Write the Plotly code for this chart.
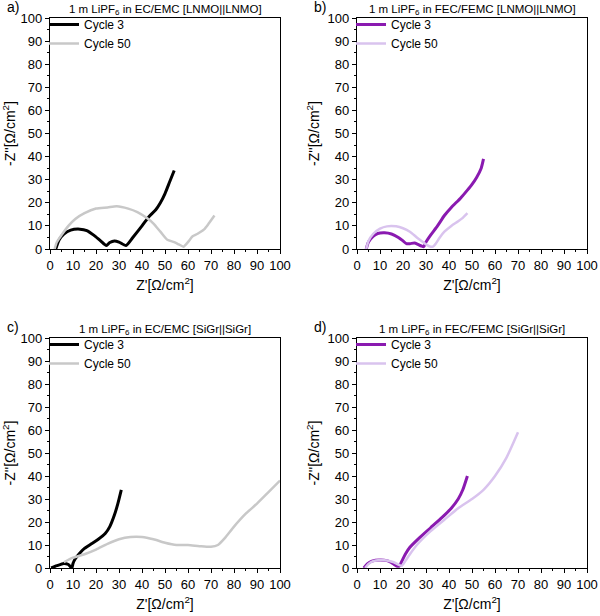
import plotly.graph_objects as go

# panel a) EC/EMC, LNMO||LNMO
a_c3_x = [2.5, 4, 6, 9, 13, 16, 19, 22, 24.5, 26, 28, 30, 33, 36, 40, 43, 46, 48, 50, 52, 54]
a_c3_y = [0, 4, 6.5, 8.2, 8.6, 8, 6, 3.5, 1.5, 2.8, 3.5, 3, 1.5, 5, 10, 14, 17, 20, 24, 29, 34]
a_c50_x = [2, 3, 5, 8, 11, 15, 20, 25, 29, 34, 38, 42, 45, 48, 51, 54, 56, 58, 60, 62, 64, 67, 69, 71.5]
a_c50_y = [0, 3, 6, 10, 13, 15.5, 17.5, 18, 18.5, 17.5, 16, 13.5, 11, 7.5, 4, 3, 2, 1, 3, 5.5, 6.5, 8.5, 11, 14.5]

# panel b) FEC/FEMC, LNMO||LNMO
b_c3_x = [4, 5, 7, 9, 12, 15, 18, 20, 21.5, 23, 25, 26.5, 28, 29, 30, 32, 35, 38, 41, 45, 48, 50, 52, 54, 55]
b_c3_y = [0, 3, 5.5, 6.7, 7, 6.5, 5, 3.5, 2.3, 2.3, 2.6, 2, 1.3, 1, 3, 6, 10, 14.5, 18, 22, 25.5, 28, 31, 35, 39]
b_c50_x = [4, 5, 7, 10, 13, 17, 20, 23, 26, 28, 30, 32, 33, 34, 36, 38, 41, 44, 46, 48]
b_c50_y = [0, 3.5, 6.5, 8.8, 9.8, 9.8, 9, 7.5, 5, 3.5, 2, 1, 1, 2, 5, 7.5, 10, 12, 13.5, 15.5]

# panel c) EC/EMC, SiGr||SiGr
c_c3_x = [0.5, 3, 6, 8, 9.5, 10, 11, 13, 15, 18, 21, 24, 26, 28, 29.5, 31]
c_c3_y = [0, 1, 2, 1.5, 0, 2, 4, 6.5, 8.5, 10.5, 12.5, 15, 18, 23, 28, 34]
c_c50_x = [6, 10, 15, 20, 25, 30, 35, 40, 45, 50, 55, 60, 65, 70, 73, 76, 80, 85, 90, 95, 100]
c_c50_y = [2.5, 4.5, 6, 8, 10.5, 12.5, 13.5, 13.5, 12.5, 11, 10, 10, 9.5, 9.2, 10, 13, 18, 23.5, 28, 33, 38]

# panel d) FEC/FEMC, SiGr||SiGr
d_c3_x = [3, 4.5, 6.5, 10, 13, 15.5, 17.5, 18.5, 19.5, 21, 23, 27, 32, 37, 41, 44, 46, 48]
d_c3_y = [0, 1.8, 3, 3.5, 3.2, 2, 0.8, 1, 3, 6, 9, 13, 17.5, 22, 26, 30, 34, 40]
d_c50_x = [3.5, 5, 7, 10, 13, 16, 18, 19.5, 21, 23, 26, 32, 38, 44, 50, 55, 60, 65, 70]
d_c50_y = [0, 1.8, 3, 3.5, 3.3, 2.5, 1.5, 1, 3, 6, 10, 16, 21, 26, 30, 34, 40, 48, 59]

titles = ["1 m LiPF<sub>6</sub> in EC/EMC [LNMO||LNMO]",
          "1 m LiPF<sub>6</sub> in FEC/FEMC [LNMO||LNMO]",
          "1 m LiPF<sub>6</sub> in EC/EMC [SiGr||SiGr]",
          "1 m LiPF<sub>6</sub> in FEC/FEMC [SiGr||SiGr]"]
labels = ["a)", "b)", "c)", "d)"]
series_names = ["Cycle 3", "Cycle 50"]

panels = [(a_c3_x, a_c3_y, a_c50_x, a_c50_y),
          (b_c3_x, b_c3_y, b_c50_x, b_c50_y),
          (c_c3_x, c_c3_y, c_c50_x, c_c50_y),
          (d_c3_x, d_c3_y, d_c50_x, d_c50_y)]
colors = [("#000000", "#c8c8c8"), ("#8a1ab0", "#d9c3ee"),
          ("#000000", "#c8c8c8"), ("#8a1ab0", "#d9c3ee")]

W, H = 600, 616
# plot areas in pixels: left, right, top, bottom
boxes = [(50, 280, 18, 249), (357, 587, 18, 249),
         (50, 280, 338, 568), (357, 587, 338, 568)]

font = "Liberation Sans, Arial, sans-serif"
fig = go.Figure()
layout = {}
annotations = []
for i, (px0, px1, py0, py1) in enumerate(boxes):
    n = "" if i == 0 else str(i + 1)
    xd = [px0 / W, px1 / W]
    yd = [1 - py1 / H, 1 - py0 / H]
    x3, y3, x50, y50 = panels[i]
    c3, c50 = colors[i]
    leg = "legend" + n
    fig.add_trace(go.Scatter(x=x3, y=y3, mode="lines", name=series_names[0],
                             line=dict(color=c3, width=3, shape="spline", smoothing=0.6),
                             xaxis="x" + n, yaxis="y" + n, legend=leg))
    fig.add_trace(go.Scatter(x=x50, y=y50, mode="lines", name=series_names[1],
                             line=dict(color=c50, width=2.5, shape="spline", smoothing=0.6),
                             xaxis="x" + n, yaxis="y" + n, legend=leg))
    axis_common = dict(range=[0, 100], dtick=10, showline=True, linecolor="black",
                       linewidth=1.2, mirror=True, ticks="outside", ticklen=4,
                       tickcolor="black", showgrid=False, zeroline=False, automargin=False,
                       tickfont=dict(family=font, size=13, color="black"),
                       minor=dict(ticks="outside", dtick=5, ticklen=2, tickcolor="black"))
    layout["xaxis" + n] = dict(axis_common, domain=xd, anchor="y" + n,
                               title=dict(text="Z'[Ω/cm<sup>2</sup>]", standoff=8,
                                          font=dict(family=font, size=14, color="black")))
    layout["yaxis" + n] = dict(axis_common, domain=yd, anchor="x" + n,
                               title=dict(text="-Z''[Ω/cm<sup>2</sup>]", standoff=4,
                                          font=dict(family=font, size=14, color="black")))
    layout[leg] = dict(x=(px0 - 6) / W, y=1 - (py0 - 8) / H, xanchor="left", yanchor="top",
                       bgcolor="rgba(0,0,0,0)", tracegroupgap=0,
                       font=dict(family=font, size=12, color="black"))
    annotations.append(dict(text=titles[i], x=(xd[0] + xd[1]) / 2, y=yd[1],
                            xref="paper", yref="paper", xanchor="center", yanchor="bottom",
                            showarrow=False, yshift=-1,
                            font=dict(family=font, size=11.5, color="black")))
    annotations.append(dict(text=labels[i], x=(px0 - 45) / W, y=yd[1], xref="paper",
                            yref="paper", xanchor="left", yanchor="bottom", showarrow=False,
                            yshift=1, font=dict(family=font, size=14, color="black")))

fig.update_layout(**layout)
fig.update_layout(width=W, height=H, margin=dict(l=0, r=0, t=0, b=0),
                  plot_bgcolor="white", paper_bgcolor="white",
                  annotations=annotations, showlegend=True)
fig.write_html("out.html", config={"displayModeBar": False},
               post_script="document.body.style.margin = '0';")
